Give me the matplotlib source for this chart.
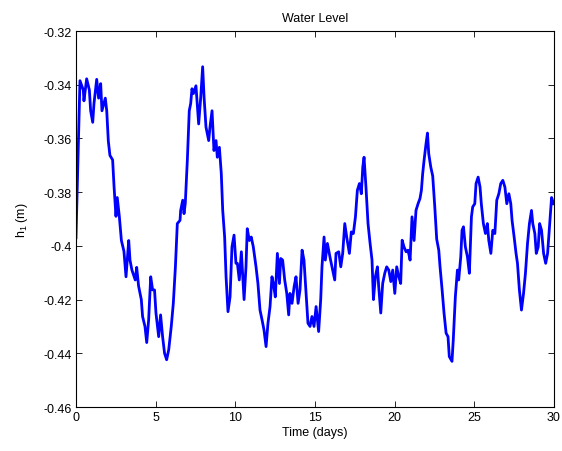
import matplotlib
matplotlib.use('Agg')
from matplotlib import pyplot as plt

# water level readings (days, metres)
time_days = [0.0, 0.25, 0.46, 0.50, 0.67, 0.84, 0.92, 1.05, 1.13, 1.30,
             1.42, 1.55, 1.63, 1.84, 1.93, 2.03, 2.13, 2.30, 2.39, 2.51,
             2.59, 2.72, 2.85, 3.01, 3.14, 3.31, 3.39, 3.51, 3.72, 3.81,
             3.93, 4.10, 4.18, 4.33, 4.44, 4.56, 4.69, 4.81, 4.93, 5.02,
             5.19, 5.31, 5.44, 5.56, 5.69, 5.82, 5.98, 6.11, 6.24, 6.36,
             6.53, 6.57, 6.70, 6.78, 6.86, 6.99, 7.11, 7.20, 7.28, 7.37,
             7.53, 7.70, 7.83, 7.95, 8.04, 8.16, 8.33, 8.41, 8.54, 8.66,
             8.79, 8.87, 9.00, 9.12, 9.21, 9.33, 9.42, 9.54, 9.67, 9.79,
             9.92, 10.04, 10.13, 10.25, 10.38, 10.55, 10.67, 10.75, 10.88, 11.00,
             11.13, 11.30, 11.42, 11.55, 11.68, 11.80, 11.93, 12.05, 12.18, 12.30,
             12.39, 12.51, 12.64, 12.77, 12.85, 12.97, 13.10, 13.23, 13.35, 13.43,
             13.56, 13.69, 13.81, 13.94, 14.06, 14.19, 14.31, 14.44, 14.56, 14.69,
             14.81, 14.94, 15.07, 15.23, 15.36, 15.44, 15.57, 15.65, 15.78, 15.90,
             15.98, 16.11, 16.24, 16.32, 16.49, 16.62, 16.74, 16.87, 16.99, 17.16,
             17.28, 17.41, 17.54, 17.66, 17.79, 17.91, 18.00, 18.08, 18.20, 18.33,
             18.46, 18.58, 18.67, 18.79, 18.92, 19.00, 19.13, 19.25, 19.38, 19.50,
             19.63, 19.76, 19.88, 20.01, 20.13, 20.26, 20.38, 20.47, 20.59, 20.72,
             20.84, 20.97, 21.09, 21.22, 21.34, 21.47, 21.59, 21.68, 21.76, 21.85,
             21.97, 22.06, 22.14, 22.27, 22.39, 22.52, 22.64, 22.77, 22.85, 22.98,
             23.10, 23.23, 23.35, 23.43, 23.60, 23.68, 23.81, 23.94, 24.02, 24.15,
             24.23, 24.32, 24.44, 24.57, 24.69, 24.82, 24.90, 25.03, 25.11, 25.24,
             25.36, 25.44, 25.57, 25.70, 25.82, 25.91, 26.04, 26.16, 26.29, 26.41,
             26.54, 26.66, 26.79, 26.92, 27.04, 27.17, 27.29, 27.37, 27.50, 27.62,
             27.71, 27.83, 27.96, 28.09, 28.21, 28.34, 28.46, 28.59, 28.67, 28.80,
             28.89, 29.01, 29.10, 29.22, 29.35, 29.48, 29.60, 29.73, 29.85, 29.98]

level_m = [-0.397, -0.3385, -0.342, -0.346, -0.3378, -0.342, -0.3497, -0.354, -0.347, -0.338,
           -0.345, -0.3396, -0.3497, -0.345, -0.3497, -0.361, -0.3663, -0.368, -0.378, -0.389,
           -0.382, -0.389, -0.398, -0.402, -0.4115, -0.398, -0.4053, -0.409, -0.4127, -0.408,
           -0.415, -0.420, -0.4263, -0.430, -0.436, -0.4276, -0.4115, -0.4164, -0.4164, -0.425,
           -0.4338, -0.4257, -0.434, -0.440, -0.4424, -0.4387, -0.430, -0.4213, -0.4078, -0.3917,
           -0.3905, -0.3868, -0.383, -0.388, -0.3842, -0.368, -0.3497, -0.347, -0.3415, -0.3433,
           -0.3404, -0.3546, -0.3447, -0.3333, -0.3447, -0.3558, -0.3608, -0.3558, -0.3497, -0.3645,
           -0.3608, -0.367, -0.3633, -0.3731, -0.3868, -0.3967, -0.4115, -0.4245, -0.419, -0.4004,
           -0.396, -0.4065, -0.4065, -0.4127, -0.4022, -0.420, -0.4078, -0.3936, -0.398, -0.3967,
           -0.4004, -0.4078, -0.414, -0.4239, -0.4276, -0.4313, -0.4375, -0.4288, -0.4226, -0.4115,
           -0.414, -0.419, -0.4028, -0.414, -0.4047, -0.4053, -0.4127, -0.4177, -0.4257, -0.4177,
           -0.4214, -0.4152, -0.4115, -0.4214, -0.4164, -0.4016, -0.4053, -0.4177, -0.4288, -0.430,
           -0.4263, -0.430, -0.4226, -0.4319, -0.420, -0.4078, -0.3967, -0.4053, -0.3991, -0.4028,
           -0.4053, -0.409, -0.4127, -0.4028, -0.4022, -0.4078, -0.4028, -0.3917, -0.3967, -0.4028,
           -0.3948, -0.3954, -0.3892, -0.3793, -0.3768, -0.3806, -0.3707, -0.367, -0.3781, -0.3917,
           -0.3991, -0.4053, -0.420, -0.4115, -0.4078, -0.4152, -0.425, -0.414, -0.4102, -0.4078,
           -0.409, -0.4133, -0.409, -0.4177, -0.4078, -0.4115, -0.414, -0.3979, -0.4004, -0.4022,
           -0.4016, -0.4053, -0.3892, -0.398, -0.3868, -0.3843, -0.3824, -0.3793, -0.3731, -0.368,
           -0.362, -0.358, -0.3657, -0.3707, -0.374, -0.3855, -0.3975, -0.4016, -0.4078, -0.4164,
           -0.425, -0.4325, -0.4338, -0.4412, -0.443, -0.435, -0.419, -0.409, -0.4127, -0.4041,
           -0.3942, -0.3929, -0.4004, -0.4041, -0.4102, -0.3892, -0.3855, -0.3843, -0.3768, -0.3744,
           -0.3781, -0.3843, -0.3917, -0.3954, -0.3917, -0.398, -0.4028, -0.3942, -0.3954, -0.383,
           -0.3806, -0.3768, -0.3756, -0.3781, -0.3843, -0.3806, -0.3843, -0.3905, -0.3967, -0.4028,
           -0.4065, -0.4164, -0.4239, -0.4177, -0.4102, -0.3991, -0.3917, -0.3868, -0.3917, -0.3954,
           -0.4028, -0.4004, -0.3917, -0.3942, -0.4028, -0.4065, -0.4028, -0.3917, -0.382, -0.3843]

x_ticks = [0, 5, 10, 15, 20, 25, 30]
y_ticks = [-0.46, -0.44, -0.42, -0.40, -0.38, -0.36, -0.34, -0.32]
y_tick_labels = ['-0.46', '-0.44', '-0.42', '-0.4', '-0.38', '-0.36', '-0.34', '-0.32']

plt.rcParams['font.family'] = ['Liberation Sans', 'DejaVu Sans']
plt.rcParams['font.size'] = 9

fig = plt.figure(figsize=(5.62, 4.52), dpi=100)
ax = fig.add_axes([0.1352, 0.0973, 0.8505, 0.8319])

ax.plot(time_days, level_m, color='#0000ff', linewidth=2.0)

ax.set_xlim(0, 30)
ax.set_ylim(-0.46, -0.32)
ax.set_xticks(x_ticks)
ax.set_yticks(y_ticks)
ax.set_yticklabels(y_tick_labels)
ax.tick_params(direction='in', length=4, width=0.6, top=True, right=True,
               labelsize=9, pad=3)
for spine in ax.spines.values():
    spine.set_linewidth(0.8)

ax.set_title('Water Level', fontsize=9, pad=7)
ax.set_xlabel('Time (days)', fontsize=9, labelpad=2)
ax.set_ylabel(r'h$_\mathregular{1}$ (m)', fontsize=9, labelpad=10)

plt.savefig('out.png', dpi=100)
